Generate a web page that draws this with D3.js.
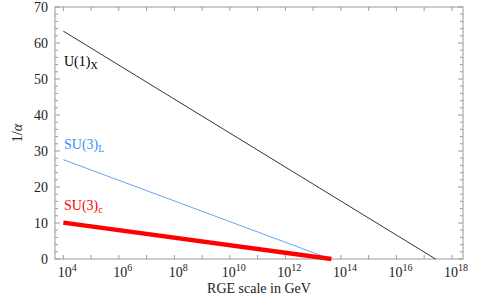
<!DOCTYPE html>
<html>
<head>
<meta charset="utf-8">
<script src="https://cdn.jsdelivr.net/npm/d3@7"></script>
<style>
  body { margin: 0; background: white; }
</style>
</head>
<body>
<div id="chart"></div>
<script>
// data: log10 of scale (GeV) and 1/alpha at start and end of each running
var seriesNames = ["U(1)X", "SU(3)L", "SU(3)c"];
var seriesColors = ["#000000", "#3a8ef0", "#ff0000"];
var seriesWidths = [0.8, 0.8, 4.5];
var startLog = [4, 4, 4];
var startVal = [63.3, 27.6, 10.1];
var endLog = [17.41, 13.62, 13.66];
var endVal = [0, 0, 0];
var xTickExps = [4, 6, 8, 10, 12, 14, 16, 18];
var yTicks = [0, 10, 20, 30, 40, 50, 60, 70];

var margin = {top: 7, right: 18, bottom: 38, left: 55},
    width = 481 - margin.left - margin.right,
    height = 297 - margin.top - margin.bottom;

var serif = "'Liberation Serif', 'Times New Roman', Times, serif";

var svg = d3.select("#chart")
  .append("svg")
    .attr("width", 481)
    .attr("height", 297)
    .style("font-family", serif)
  .append("g")
    .attr("transform", "translate(" + margin.left + "," + margin.top + ")");

var x = d3.scaleLinear()
  .domain([3.7, 18.4])
  .range([0, width]);

var y = d3.scaleLinear()
  .domain([0, 70])
  .range([height, 0]);

var frameColor = "#9a9a9a";

// frame
svg.append("rect")
  .attr("x", 0).attr("y", 0)
  .attr("width", width).attr("height", height)
  .attr("fill", "none")
  .attr("stroke", frameColor)
  .attr("stroke-width", 1);

// x ticks every decade, inward, bottom and top
d3.range(4, 19).forEach(function(e) {
  svg.append("line")
    .attr("x1", x(e)).attr("x2", x(e))
    .attr("y1", height).attr("y2", height - 4)
    .attr("stroke", frameColor);
  svg.append("line")
    .attr("x1", x(e)).attr("x2", x(e))
    .attr("y1", 0).attr("y2", 4)
    .attr("stroke", frameColor);
});

// y ticks: major every 10, minor every 2
d3.range(0, 71, 2).forEach(function(v) {
  var len = (v % 10 === 0) ? 5 : 3;
  svg.append("line")
    .attr("x1", 0).attr("x2", len)
    .attr("y1", y(v)).attr("y2", y(v))
    .attr("stroke", frameColor);
  svg.append("line")
    .attr("x1", width).attr("x2", width - len)
    .attr("y1", y(v)).attr("y2", y(v))
    .attr("stroke", frameColor);
});

// y tick labels
svg.selectAll(".ylab")
  .data(yTicks)
  .enter()
  .append("text")
    .attr("x", -7)
    .attr("y", function(d) { return y(d) + 5; })
    .attr("text-anchor", "end")
    .style("font-family", serif)
    .style("font-size", "14px")
    .style("fill", "#222")
    .text(function(d) { return d; });

// x tick labels (10^n)
xTickExps.forEach(function(e) {
  var t = svg.append("text")
    .attr("x", x(e) + 4)
    .attr("y", height + 18)
    .attr("text-anchor", "middle")
    .style("font-family", serif)
    .style("font-size", "14px")
    .style("fill", "#222");
  t.append("tspan").text("10");
  t.append("tspan")
    .attr("dy", -6)
    .style("font-size", "10px")
    .text(e);
});

// axis titles
svg.append("text")
  .attr("x", width / 2)
  .attr("y", height + 34)
  .attr("text-anchor", "middle")
  .style("font-family", serif)
  .style("font-size", "14px")
  .style("fill", "#222")
  .text("RGE scale in GeV");

var yl = svg.append("text")
  .attr("transform", "translate(" + (-33) + "," + (height / 2) + ")rotate(-90)")
  .attr("text-anchor", "middle")
  .style("font-family", serif)
  .style("font-size", "14px")
  .style("fill", "#222");
yl.append("tspan").text("1/");
yl.append("tspan").style("font-style", "italic").text("α");

// lines
var lineData = seriesNames.map(function(n, i) {
  return {name: n, color: seriesColors[i], w: seriesWidths[i],
          pts: [[startLog[i], startVal[i]], [endLog[i], endVal[i]]]};
});

var line = d3.line()
  .x(function(d) { return x(d[0]); })
  .y(function(d) { return y(d[1]); });

svg.selectAll(".series")
  .data(lineData)
  .enter()
  .append("path")
    .attr("d", function(d) { return line(d.pts); })
    .attr("fill", "none")
    .attr("stroke", function(d) { return d.color; })
    .attr("stroke-width", function(d) { return d.w; });

// series labels
var labelY = [59, 142, 203];
var labelSub = ["X", "L", "c"];
seriesNames.forEach(function(n, i) {
  var t = svg.append("text")
    .attr("x", 9)
    .attr("y", labelY[i])
    .style("font-family", serif)
    .style("font-size", "14px")
    .style("fill", seriesColors[i]);
  t.append("tspan").text(n.slice(0, n.length - 1));
  t.append("tspan")
    .attr("dy", 3)
    .style("font-size", "10px")
    .text(labelSub[i]);
});
</script>
</body>
</html>
